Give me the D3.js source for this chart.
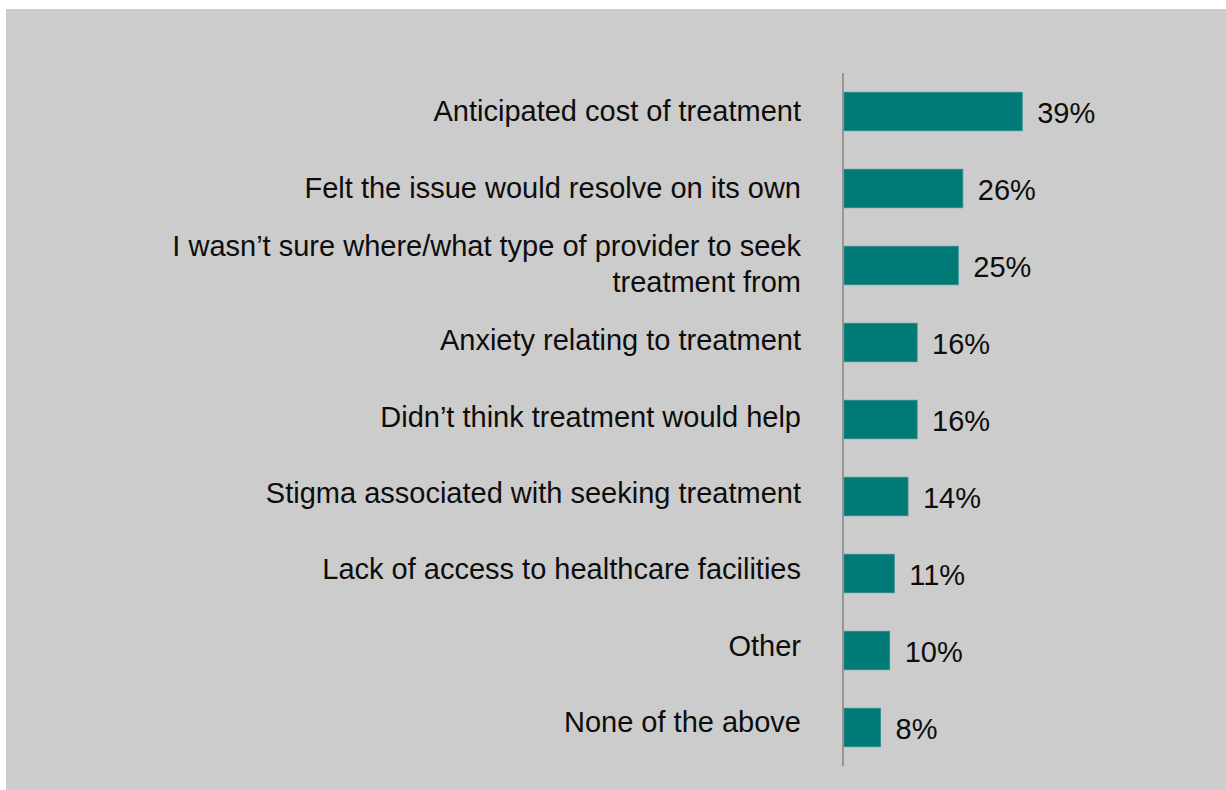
<!DOCTYPE html>
<html>
<head>
<meta charset="utf-8">
<script src="https://cdn.jsdelivr.net/npm/d3@7"></script>
<style>
  html, body { margin: 0; padding: 0; background: #ffffff; }
  svg { display: block; }
  text { font-family: "Liberation Sans", Arial, sans-serif; fill: #0d0d0d; }
</style>
</head>
<body>
<svg id="chart" width="1226" height="790"></svg>
<script>
// Reasons for not seeking treatment (share of respondents, %)
const categories = [
  "Anticipated cost of treatment",
  "Felt the issue would resolve on its own",
  "I wasn\u2019t sure where/what type of provider to seek|treatment from",
  "Anxiety relating to treatment",
  "Didn\u2019t think treatment would help",
  "Stigma associated with seeking treatment",
  "Lack of access to healthcare facilities",
  "Other",
  "None of the above"
];
const values = [39, 26, 25, 16, 16, 14, 11, 10, 8];
const valueLabels = ["39%", "26%", "25%", "16%", "16%", "14%", "11%", "10%", "8%"];

const svg = d3.select("#chart");

// grey panel
svg.append("rect")
  .attr("x", 6).attr("y", 9)
  .attr("width", 1220).attr("height", 781)
  .attr("fill", "#cccccc");

const x = d3.scaleLinear().domain([0, 100]).range([844, 1301]);
const y = d3.scaleBand().domain(categories).range([73, 766])
  .paddingInner(0.5).paddingOuter(0.25);
const yLabel = d3.scaleBand().domain(categories).range([73, 760])
  .paddingInner(0.5).paddingOuter(0.25);

const rows = categories.map((c, i) => ({ cat: c, value: values[i], label: valueLabels[i] }));

// bars
svg.append("g").selectAll("rect")
  .data(rows)
  .join("rect")
  .attr("x", x(0))
  .attr("y", d => y(d.cat))
  .attr("width", d => x(d.value) - x(0))
  .attr("height", y.bandwidth())
  .attr("fill", "#007a77")
  .attr("stroke", "#2f8d89")
  .attr("stroke-width", 0.8);

// vertical axis line
svg.append("line")
  .attr("x1", 843).attr("x2", 843)
  .attr("y1", 73).attr("y2", 766)
  .attr("stroke", "#8a8a8a")
  .attr("stroke-width", 1.6);

// category labels (right aligned, may wrap on "|")
const catG = svg.append("g");
rows.forEach(d => {
  const lines = d.cat.split("|");
  const cy = yLabel(d.cat) + yLabel.bandwidth() / 2;
  const lineH = 36;
  const t = catG.append("text")
    .attr("text-anchor", "end")
    .attr("font-size", 29);
  lines.forEach((ln, k) => {
    t.append("tspan")
      .attr("x", 801)
      .attr("y", cy + 10 + (k - (lines.length - 1) / 2) * lineH)
      .text(ln);
  });
});

// value labels
svg.append("g").selectAll("text")
  .data(rows)
  .join("text")
  .attr("x", d => x(d.value) + 15)
  .attr("y", d => y(d.cat) + y.bandwidth() / 2 + 11)
  .attr("font-size", 29)
  .text(d => d.label);
</script>
</body>
</html>
